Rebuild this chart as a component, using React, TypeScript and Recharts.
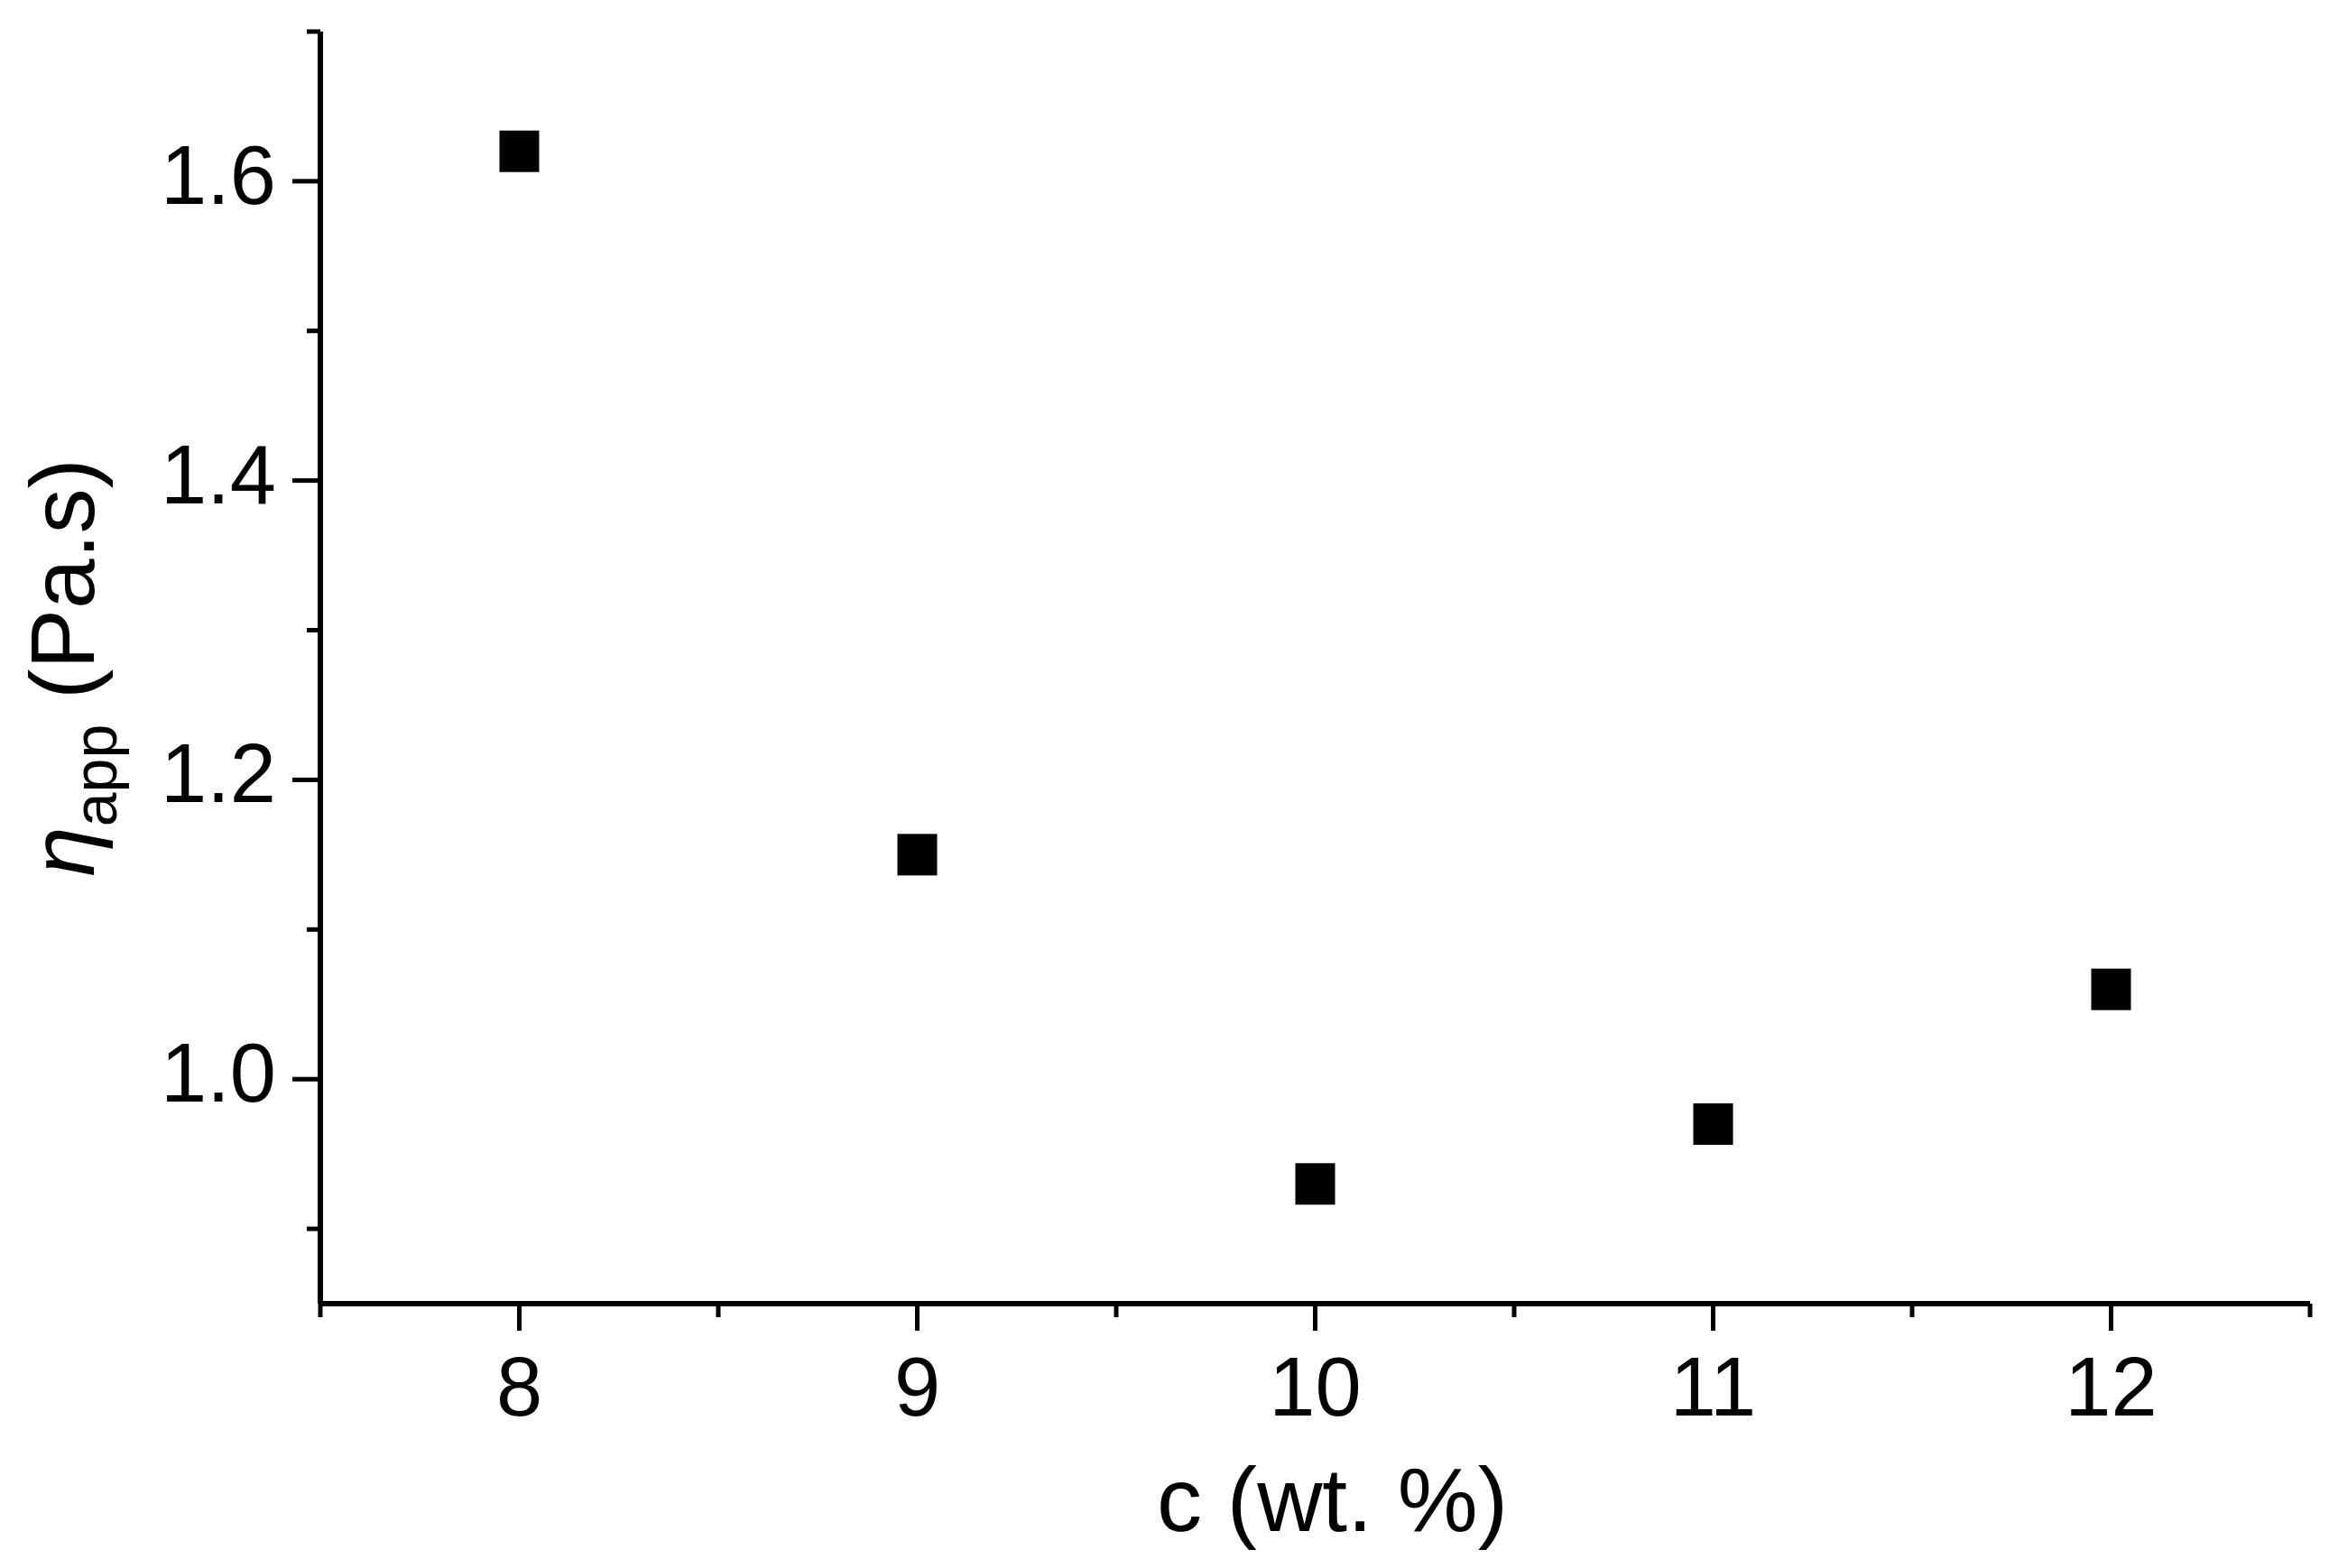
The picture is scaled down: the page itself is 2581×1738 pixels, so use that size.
import React from 'react';
import { ScatterChart, Scatter, XAxis, YAxis } from 'recharts';

const concentrations = [8, 9, 10, 11, 12];
const viscosity = [1.62, 1.15, 0.93, 0.97, 1.06];
const xTicks = [7.5, 8, 8.5, 9, 9.5, 10, 10.5, 11, 11.5, 12, 12.5];
const yTicks = [0.9, 1.0, 1.1, 1.2, 1.3, 1.4, 1.5, 1.6, 1.7];

const data = concentrations.map((c, i) => ({ x: c, y: viscosity[i] }));

const FONT = '"Liberation Sans", Arial, sans-serif';

const XTick = (props: any) => {
  const { x, y, payload } = props;
  const v = payload.value;
  const major = Number.isInteger(v);
  return (
    <g>
      <line x1={x} y1={y} x2={x} y2={y + (major ? 30 : 15)} stroke="#000" strokeWidth={5} />
      {major && (
        <text x={x} y={y + 124} textAnchor="middle" fontSize={92} fontFamily={FONT} fill="#000">
          {v}
        </text>
      )}
    </g>
  );
};

const YTick = (props: any) => {
  const { x, y, payload } = props;
  const v = payload.value;
  const major = Math.round(v * 10) % 2 === 0;
  return (
    <g>
      <line x1={x - (major ? 31 : 15)} y1={y} x2={x} y2={y} stroke="#000" strokeWidth={5} />
      {major && (
        <text x={x - 49} y={y + 25} textAnchor="end" fontSize={92} fontFamily={FONT} fill="#000">
          {v.toFixed(1)}
        </text>
      )}
    </g>
  );
};

const XTitle = (props: any) => {
  const vb = props.viewBox || { x: 355, y: 1445, width: 2205, height: 293 };
  return (
    <text
      x={vb.x + vb.width / 2 + 19}
      y={vb.y + 252}
      textAnchor="middle"
      fontSize={100}
      fontFamily={FONT}
      fill="#000"
    >
      c (wt. %)
    </text>
  );
};

const YTitle = (props: any) => {
  const vb = props.viewBox || { x: 0, y: 35, width: 355, height: 1410 };
  const cx = vb.x + 104;
  const cy = vb.y + vb.height / 2;
  return (
    <text
      x={cx}
      y={cy}
      transform={`rotate(-90, ${cx}, ${cy})`}
      textAnchor="middle"
      fontSize={100}
      fontFamily={FONT}
      fill="#000"
    >
      <tspan fontStyle="italic">η</tspan>
      <tspan fontSize={68} dy={25}>app</tspan>
      <tspan dy={-25}> (Pa.s)</tspan>
    </text>
  );
};

const Square = (props: any) => {
  const { cx, cy } = props;
  if (cx == null || cy == null) return null;
  return <rect x={cx - 22} y={cy - 23} width={44} height={46} fill="#000" />;
};

export default function App() {
  return (
    <div style={{ position: 'absolute', left: 0, top: 0, background: '#fff' }}>
      <ScatterChart
        width={2581}
        height={1738}
        margin={{ top: 35, right: 21, bottom: 0, left: 0 }}
      >
        <XAxis
          type="number"
          dataKey="x"
          domain={[7.5, 12.5]}
          ticks={xTicks}
          interval={0}
          height={293}
          tickSize={0}
          tickMargin={0}
          tickLine={false}
          axisLine={{ stroke: '#000', strokeWidth: 6 }}
          tick={<XTick />}
          allowDataOverflow
          label={<XTitle />}
        />
        <YAxis
          type="number"
          dataKey="y"
          domain={[0.85, 1.7]}
          ticks={yTicks}
          interval={0}
          width={355}
          tickSize={0}
          tickMargin={0}
          tickLine={false}
          axisLine={{ stroke: '#000', strokeWidth: 6 }}
          tick={<YTick />}
          allowDataOverflow
          label={<YTitle />}
        />
        <Scatter data={data} fill="#000" shape={<Square />} isAnimationActive={false} />
      </ScatterChart>
    </div>
  );
}
